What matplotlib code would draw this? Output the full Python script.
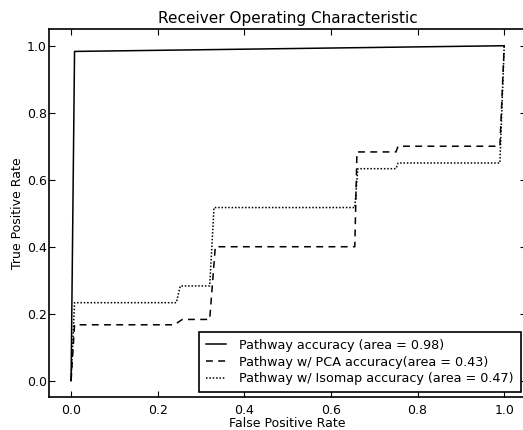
import matplotlib
matplotlib.use('Agg')
import matplotlib.pyplot as plt

# ROC points per model (fpr, tpr)
fprPathway = [0.0, 0.008, 1.0]
tprPathway = [0.0, 0.983, 1.0]

fprPca = [0.0, 0.008, 0.238, 0.257, 0.32, 0.333, 0.655, 0.66, 0.75, 0.755, 0.99, 1.0]
tprPca = [0.0, 0.167, 0.167, 0.183, 0.183, 0.40, 0.40, 0.683, 0.683, 0.70, 0.70, 1.0]

fprIsomap = [0.0, 0.008, 0.243, 0.252, 0.32, 0.33, 0.655, 0.662, 0.75, 0.755, 0.99, 1.0]
tprIsomap = [0.0, 0.233, 0.233, 0.283, 0.283, 0.517, 0.517, 0.633, 0.633, 0.65, 0.65, 1.0]

labels = ['Pathway accuracy (area = 0.98)',
          'Pathway w/ PCA accuracy(area = 0.43)',
          'Pathway w/ Isomap accuracy (area = 0.47)']

ticks = [0.0, 0.2, 0.4, 0.6, 0.8, 1.0]

plt.rcParams['font.family'] = ['DejaVu Sans']
plt.rcParams['font.size'] = 9
plt.rcParams['xtick.direction'] = 'in'
plt.rcParams['ytick.direction'] = 'in'

fig = plt.figure(figsize=(5.23, 4.3), dpi=100)
# right spine sits just past the figure edge
ax = fig.add_axes([0.0945, 0.0756, 0.911, 0.857])

ax.plot(fprPathway, tprPathway, color='k', ls='-', lw=1.1, label=labels[0])
ax.plot(fprPca, tprPca, color='k', ls=(0, (4.5, 3.5)), lw=1.1, label=labels[1])
ax.plot(fprIsomap, tprIsomap, color='k', ls=(0, (1, 1.2)), lw=1.1, label=labels[2])

ax.set_xlim(-0.05, 1.05)
ax.set_ylim(-0.05, 1.05)
ax.set_xticks(ticks)
ax.set_yticks(ticks)
ax.tick_params(top=True, right=True, length=4, width=0.8)
ax.tick_params(axis='x', pad=5)
ax.tick_params(axis='y', pad=2)
for s in ax.spines.values():
    s.set_linewidth(1.2)

ax.set_xlabel('False Positive Rate', labelpad=0)
ax.set_ylabel('True Positive Rate', labelpad=2)
ax.set_title('Receiver Operating Characteristic', fontsize=11, pad=4)

leg = ax.legend(loc='lower right', fancybox=False, framealpha=1, edgecolor='k',
                fontsize=9.2, handlelength=1.6, handletextpad=1.0,
                labelspacing=0.3, borderpad=0.55, borderaxespad=0.4)
leg.get_frame().set_linewidth(1.2)

fig.savefig('out.png', dpi=100)
